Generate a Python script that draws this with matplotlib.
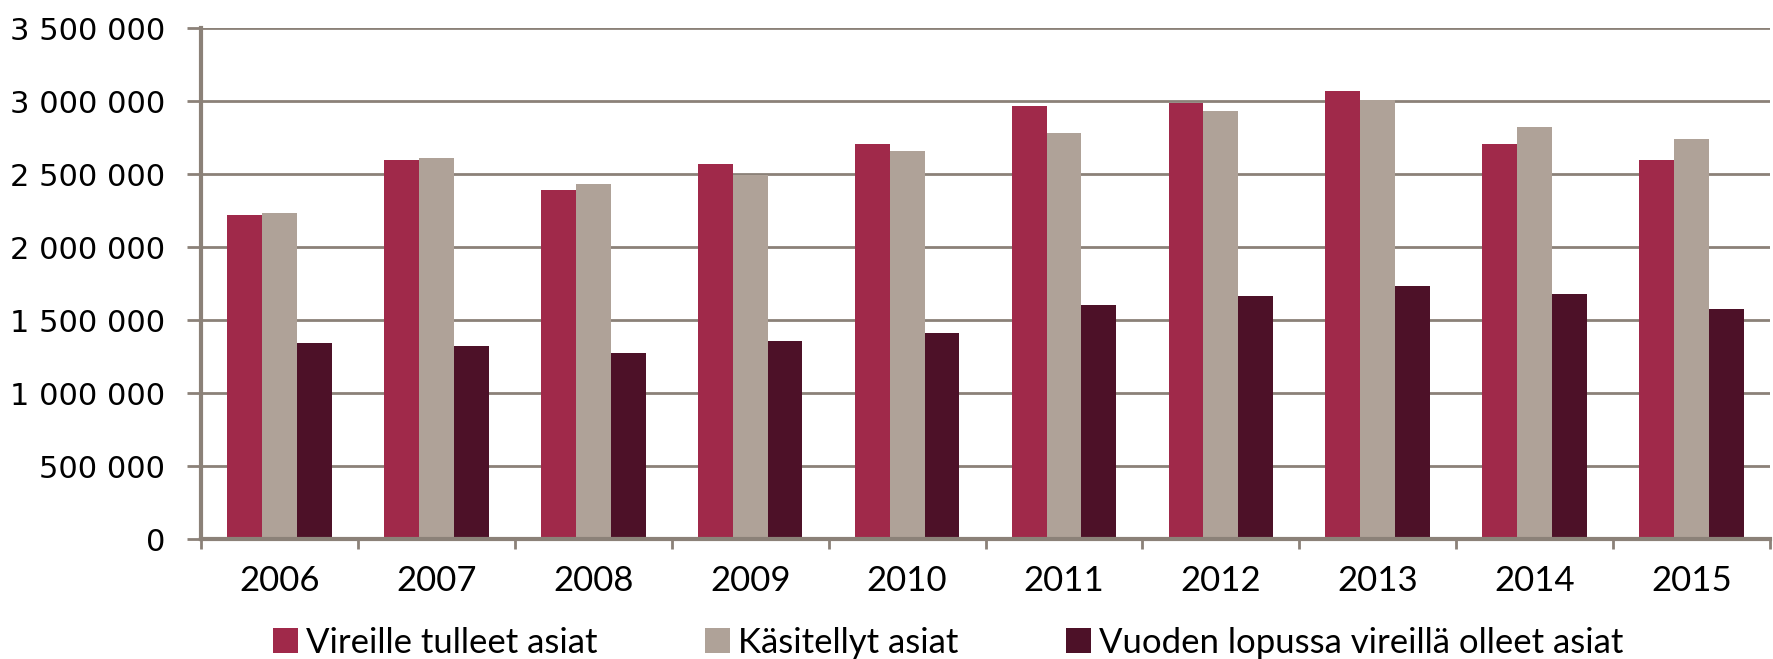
import numpy as np
import matplotlib
matplotlib.use("Agg")
import matplotlib.pyplot as plt
from matplotlib.ticker import FuncFormatter, FixedLocator

years = ["2006", "2007", "2008", "2009", "2010", "2011", "2012", "2013", "2014", "2015"]
vireille = [2216000, 2593000, 2391000, 2570000, 2705000, 2966000, 2984000, 3070000, 2707000, 2593000]
kasitellyt = [2230000, 2609000, 2434000, 2495000, 2655000, 2784000, 2934000, 3007000, 2820000, 2741000]
vuoden_lopussa = [1345000, 1325000, 1277000, 1355000, 1414000, 1605000, 1664000, 1736000, 1675000, 1575000]
labels = ["Vireille tulleet asiat", "Käsitellyt asiat", "Vuoden lopussa vireillä olleet asiat"]
colors = ["#A0294A", "#AFA298", "#4D1128"]
axis_col = "#8B8178"

fig = plt.figure(figsize=(17.73, 6.59), dpi=100)
ax = fig.add_axes([0.1134, 0.182, 0.8849, 0.7755])

x = np.arange(len(years))
w = 1 / 4.5
for i, vals in enumerate([vireille, kasitellyt, vuoden_lopussa]):
    ax.bar(x + (i - 1) * w, vals, width=w, color=colors[i], label=labels[i], zorder=3)

ax.set_xlim(-0.5, len(years) - 0.5)
ax.set_ylim(0, 3500000)
ax.set_yticks(np.arange(0, 3500001, 500000))
ax.yaxis.set_major_formatter(FuncFormatter(lambda v, p: f"{int(v):,}".replace(",", " ")))
ax.grid(axis="y", color=axis_col, linewidth=2, zorder=0)

ax.xaxis.set_major_locator(FixedLocator(np.arange(-0.5, len(years), 1.0)))
ax.xaxis.set_minor_locator(FixedLocator(x))
ax.set_xticklabels([])
ax.set_xticklabels(years, minor=True, fontsize=25, family=["Lato", "DejaVu Sans"])
ax.tick_params(axis="x", which="major", length=7, width=2, color=axis_col, direction="out")
ax.tick_params(axis="x", which="minor", length=0, pad=19)
ax.tick_params(axis="y", length=10, width=2, color=axis_col, pad=16, labelsize=22)

for s in ["top", "right"]:
    ax.spines[s].set_visible(False)
for s in ["left", "bottom"]:
    ax.spines[s].set_color(axis_col)
    ax.spines[s].set_linewidth(3)
    ax.spines[s].set_zorder(4)

fig.legend(loc="center", bbox_to_anchor=(0.535, 0.025), ncol=3, frameon=False,
           prop={"family": ["Lato", "DejaVu Sans"], "size": 25},
           handlelength=0.7, handleheight=0.7, handletextpad=0.25, columnspacing=3.1,
           borderpad=0, borderaxespad=0)

fig.savefig("out.png", dpi=100)
